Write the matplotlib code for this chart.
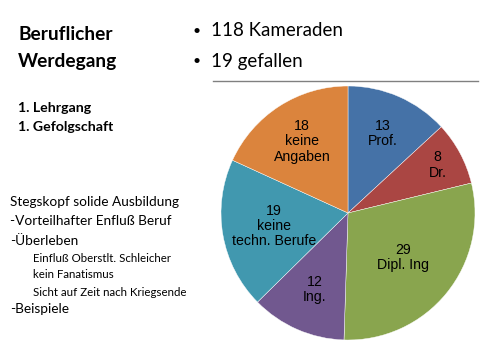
import numpy as np
import matplotlib
matplotlib.use('Agg')
import matplotlib.pyplot as plt
from matplotlib.lines import Line2D

# data
values = [13, 8, 29, 12, 19, 18]
names = ['Prof.', 'Dr.', 'Dipl. Ing', 'Ing.', 'keine\ntechn. Berufe', 'keine\nAngaben']
colors = ['#4572A7', '#AA4643', '#89A54E', '#71588F', '#4198AF', '#DB843D']
lab_r = [0.68, 0.80, 0.56, 0.66, 0.59, 0.67]

bullets = ['118 Kameraden', '19 gefallen']
left_lines = [
    ('Stegskopf solide Ausbildung', 10, 202),
    ('-Vorteilhafter Enfluß Beruf', 10, 221),
    ('-Überleben', 10, 241),
    ('Einfluß Oberstlt. Schleicher', 33, 258),
    ('kein Fanatismus', 33, 275),
    ('Sicht auf Zeit nach Kriegsende', 33, 292),
    ('-Beispiele', 10, 309),
]

W, H = 480, 360
fig = plt.figure(figsize=(4.8, 3.6), dpi=100)

def px(x, y):
    return x / W, 1 - y / H

fnt = 'Lato'

# title block
fig.text(*px(18, 34), 'Beruflicher', fontsize=13.8, fontweight='bold', family=fnt, va='center')
fig.text(*px(18, 61), 'Werdegang', fontsize=13.8, fontweight='bold', family=fnt, va='center')
fig.text(*px(18, 108), '1. Lehrgang', fontsize=10.2, fontweight='bold', family=fnt, va='center')
fig.text(*px(18, 127), '1. Gefolgschaft', fontsize=10.2, fontweight='bold', family=fnt, va='center')

# bullets
for i, b in enumerate(bullets):
    y = 31 + i * 30
    fig.text(*px(192, y), '•', fontsize=10, family=fnt, va='center')
    fig.text(*px(211, y), b, fontsize=13.5, family=fnt, va='center')

fig.add_artist(Line2D([213 / W, 478 / W], [1 - 81 / H, 1 - 81 / H], color='#808080', lw=1))

for txt, x, y in left_lines:
    fs = 9.8 if x < 20 else 8.3
    fig.text(*px(x, y), txt, fontsize=fs, family=fnt, va='center')

# pie
cx, cy, R = 348, 213, 127
ax = fig.add_axes([(cx - R) / W, (H - cy - R) / H, 2 * R / W, 2 * R / H])
wedges, _ = ax.pie(values, colors=colors, startangle=90, counterclock=False,
                   wedgeprops=dict(edgecolor='white', linewidth=0.3))
for w, v, n, r in zip(wedges, values, names, lab_r):
    a = np.deg2rad((w.theta1 + w.theta2) / 2)
    ax.text(r * np.cos(a), r * np.sin(a), f'{v}\n{n}', ha='center', va='center',
            fontsize=10.2, family='Liberation Sans', color='black', linespacing=1.1)
ax.set_xlim(-1, 1)
ax.set_ylim(-1, 1)
ax.set_aspect('equal')
ax.axis('off')

fig.savefig('out.png', dpi=100)
